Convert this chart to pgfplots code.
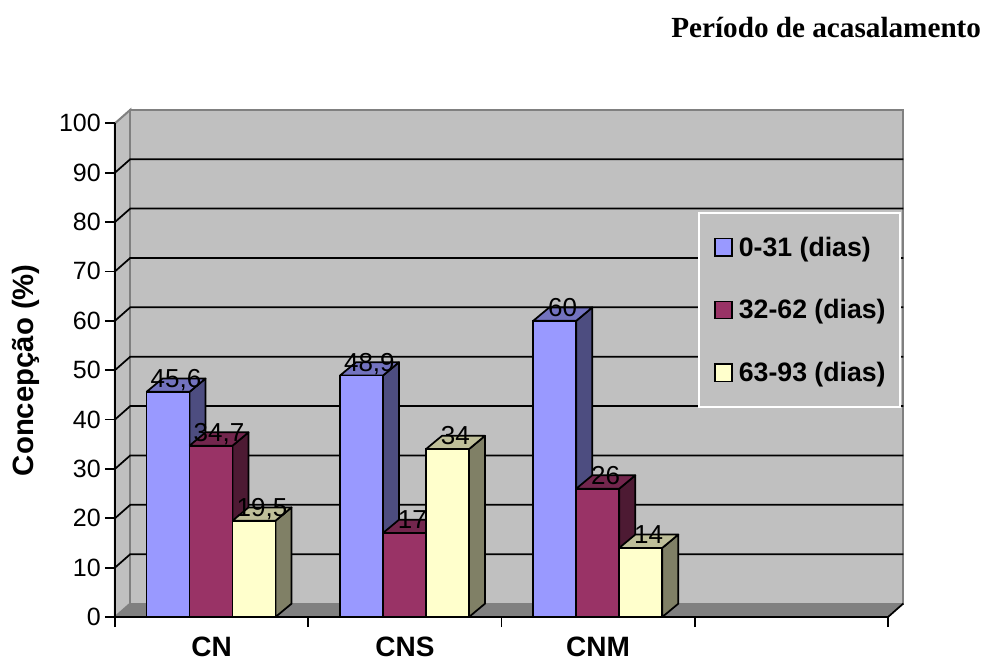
\documentclass[border=0pt]{standalone}
\usepackage{pgfplots}
\pgfplotsset{compat=1.18}
\usepackage{fontspec}
\setmainfont{Liberation Sans}
\newfontfamily\titlefont{Liberation Serif}

\definecolor{wall}{HTML}{C0C0C0}
\definecolor{floorc}{HTML}{808080}
\definecolor{edgec}{HTML}{808080}
\definecolor{blueF}{HTML}{9999FF}
\definecolor{blueS}{HTML}{4D4D80}
\definecolor{blueT}{HTML}{7373BF}
\definecolor{plumF}{HTML}{993366}
\definecolor{plumS}{HTML}{4D1A33}
\definecolor{plumT}{HTML}{73264D}
\definecolor{creamF}{HTML}{FFFFCC}
\definecolor{creamS}{HTML}{808066}
\definecolor{creamT}{HTML}{BFBF99}

% 1 px = 0.75pt; depth offsets in data units
\def\wallx{0.0792}
\def\wally{2.73}
\def\barx{0.083}
\def\bary{2.7}
\def\halfw{0.11125}

% side and top face of a bar: centre, value, side colour, top colour
\newcommand\depthfaces[4]{%
  \pgfmathsetmacro\xb{#1+\halfw}%
  \pgfmathsetmacro\xa{#1-\halfw}%
  \pgfmathsetmacro\xc{\xb+\barx}%
  \pgfmathsetmacro\xd{\xa+\barx}%
  \pgfmathsetmacro\yb{#2+\bary}%
  \edef\temp{\noexpand\addplot[forget plot,mark=none,fill=#3,draw=black,line width=1.3pt,line join=round]
    coordinates {(\xb,0)(\xc,\bary)(\xc,\yb)(\xb,#2)(\xb,0)};
    \noexpand\addplot[forget plot,mark=none,fill=#4,draw=black,line width=1.3pt,line join=round]
    coordinates {(\xa,#2)(\xd,\yb)(\xc,\yb)(\xb,#2)(\xa,#2)};}%
  \temp
}
% grid line on side wall and back wall
\newcommand\gridat[1]{%
  \pgfmathsetmacro\yg{#1+\wally}%
  \pgfmathsetmacro\xg{4+\wallx}%
  \edef\temp{\noexpand\addplot[forget plot,mark=none,black,line width=1.3pt]
    coordinates {(0,#1)(\wallx,\yg)(\xg,\yg)};}%
  \temp
}
% value label above a bar, expanded now because the axis draws later
\newcommand\vallabel[3]{%
  \pgfmathsetmacro\xl{#1+0.041}%
  \pgfmathsetmacro\yl{#2+0.9}%
  \edef\temp{\noexpand\node[anchor=base,font=\noexpand\fontsize{19.5pt}{19.5pt}\noexpand\selectfont,inner sep=0pt] at (axis cs:\xl,\yl) {#3};}%
  \temp
}

\begin{document}
\begin{tikzpicture}
\path[use as bounding box] (-86.25pt,-33.75pt) rectangle (651.75pt,462.75pt);
\begin{axis}[
    at={(0pt,0pt)},
    anchor=south west,
    scale only axis,
    width=579.75pt,
    height=370.3pt,
    xmin=0, xmax=4,
    ymin=0, ymax=100,
    clip=false,
    axis on top,
    axis lines=left,
    axis line style={-,line width=1.3pt,black},
    tick style={line width=1.3pt,black},
    tick align=outside,
    major tick length=7.5pt,
    xtick={0,1,2,3,4},
    xticklabels={CN,CNS,CNM,{}},
    x tick label as interval,
    ytick={0,10,...,100},
    /pgf/number format/assume math mode=true,
    yticklabel style={font=\fontsize{18.75pt}{18.75pt}\selectfont,inner sep=0pt,xshift=-3pt},
    xticklabel style={font=\fontsize{21pt}{21pt}\bfseries\selectfont,yshift=-4pt},
    ylabel={Concepção (\%)},
    ylabel style={font=\fontsize{22pt}{22pt}\bfseries\selectfont},
    ylabel shift=11pt,
    legend style={
        at={(axis cs:3.017,82)},
        anchor=north west,
        fill=wall,
        draw=white,
        line width=1.3pt,
        font=\fontsize{20pt}{20pt}\bfseries\selectfont,
        inner xsep=9pt,
        inner ysep=15.75pt,
        row sep=27pt,
        cells={anchor=west},
    },
    legend image code/.code={
        \path[draw=none,fill=none] (0pt,0pt) -- (19pt,0pt);
        \draw[#1,line width=1.2pt] (3pt,-6.5pt) rectangle (16pt,6.5pt);
    },
]
% walls and floor
\addplot[forget plot,mark=none,fill=wall,draw=edgec,line width=1.5pt] coordinates {(0,0)(0.0792,2.73)(0.0792,102.73)(0,100)(0,0)};
\addplot[forget plot,mark=none,fill=wall,draw=edgec,line width=1.5pt] coordinates {(0.0792,2.73)(4.0792,2.73)(4.0792,102.73)(0.0792,102.73)(0.0792,2.73)};
\addplot[forget plot,mark=none,fill=floorc,draw=none] coordinates {(0,0)(4,0)(4.0792,2.73)(0.0792,2.73)(0,0)};
\addplot[forget plot,mark=none,draw=black,line width=1.3pt] coordinates {(4,0)(4.0792,2.73)};
\gridat{10}\gridat{20}\gridat{30}\gridat{40}\gridat{50}\gridat{60}\gridat{70}\gridat{80}\gridat{90}

% 0-31 dias
\depthfaces{0.2743}{45.6}{blueS}{blueT}
\depthfaces{1.2753}{48.9}{blueS}{blueT}
\depthfaces{2.2757}{60}{blueS}{blueT}
\addplot[ybar,bar width=0.2225,bar shift=0pt,fill=blueF,draw=black,line width=1.3pt]
    coordinates {(0.2743,45.6)(1.2753,48.9)(2.2757,60)};
\addlegendentry{0-31 (dias)}

% 32-62 dias
\depthfaces{0.4968}{34.7}{plumS}{plumT}
\depthfaces{1.4978}{17}{plumS}{plumT}
\depthfaces{2.4982}{26}{plumS}{plumT}
\addplot[ybar,bar width=0.2225,bar shift=0pt,fill=plumF,draw=black,line width=1.3pt]
    coordinates {(0.4968,34.7)(1.4978,17)(2.4982,26)};
\addlegendentry{32-62 (dias)}

% 63-93 dias
\depthfaces{0.7193}{19.5}{creamS}{creamT}
\depthfaces{1.7203}{34}{creamS}{creamT}
\depthfaces{2.7207}{14}{creamS}{creamT}
\addplot[ybar,bar width=0.2225,bar shift=0pt,fill=creamF,draw=black,line width=1.3pt]
    coordinates {(0.7193,19.5)(1.7203,34)(2.7207,14)};
\addlegendentry{63-93 (dias)}

\vallabel{0.2743}{45.6}{45,6}
\vallabel{0.4968}{34.7}{34,7}
\vallabel{0.7193}{19.5}{19,5}
\vallabel{1.2753}{48.9}{48,9}
\vallabel{1.4978}{17}{17}
\vallabel{1.7203}{34}{34}
\vallabel{2.2757}{60}{60}
\vallabel{2.4982}{26}{26}
\vallabel{2.7207}{14}{14}

\node[anchor=base east,inner sep=0pt,font=\fontsize{21.9pt}{21.9pt}\titlefont\bfseries\selectfont] at (axis cs:4.483,117.3) {Período de acasalamento};
\end{axis}
\end{tikzpicture}
\end{document}
